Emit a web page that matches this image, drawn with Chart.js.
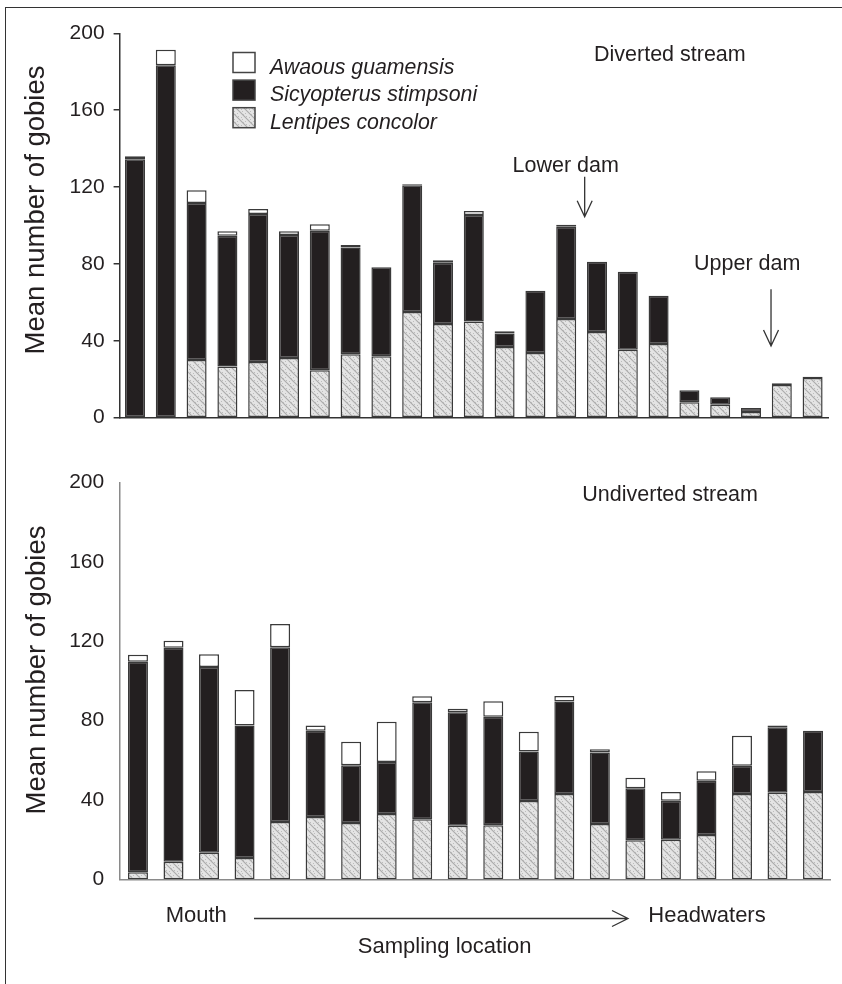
<!DOCTYPE html>
<html lang="en">
  <head>
    <meta charset="UTF-8" />
    <title>Mean number of gobies by sampling location</title>
    <script src="https://cdn.jsdelivr.net/npm/chart.js@4.4.0/dist/chart.umd.min.js"></script>
    <style>
      html, body { margin: 0; padding: 0; background: #fff; }
      #page { position: relative; width: 842px; height: 984px; overflow: hidden; }
      #frame { position: absolute; left: 5px; top: 6.5px; width: 850px; height: 990px;
               border-top: 1.5px solid #333; border-left: 1.5px solid #333; }
      canvas { position: absolute; left: 0; }
    </style>
  </head>
  <body>
    <div id="page">
      <div id="frame"></div>
      <canvas id="divChart" width="842" height="450" style="top:0"></canvas>
      <canvas id="undChart" width="842" height="534" style="top:450px"></canvas>
    </div>

    <script>
      // values (mean number of gobies per site, mouth -> headwaters)
      const divSites = ['1','2','3','4','5','6','7','8','9','10','11','12','13','14','15','16','17','18','19','20','21','22','23'];
      const divLentipes    = [0, 0.4, 30, 26.7, 29, 31, 24.7, 33, 32, 55, 48.8, 50, 36.8, 33.7, 51.4, 44.6, 35.4, 38.3, 8, 6.8, 3, 17, 20.6];
      const divSicyopterus = [134.5, 183, 81.7, 68, 77, 64, 72.6, 55.6, 46.3, 66, 31.8, 55.5, 7, 32.4, 48, 36.6, 40.6, 25.2, 6.3, 3.8, 2, 0.9, 0.7];
      const divAwaous      = [1.5, 8, 6.6, 2.3, 2.6, 2, 3.3, 1.3, 0, 0.4, 1.3, 2, 1.2, 0, 1, 0, 0, 0, 0, 0, 0, 0, 0];

      const undSites = ['1','2','3','4','5','6','7','8','9','10','11','12','13','14','15','16','17','18','19','20'];
      const undLentipes    = [3.5, 8.9, 13.4, 10.7, 28.9, 31.4, 28.4, 32.9, 30.3, 27, 27.2, 39.5, 43, 27.9, 19.7, 20, 22.3, 43, 43.7, 44];
      const undSicyopterus = [106.2, 107.9, 93.6, 66.8, 88.1, 43.5, 29.1, 26.3, 59, 57.2, 54.8, 25, 46.6, 36.1, 26.2, 19.6, 27.4, 14.3, 33, 30.9];
      const undAwaous      = [3.6, 3.5, 6.5, 18, 11.7, 2.6, 11.9, 20.3, 3, 1.8, 7.8, 9.9, 2.8, 1.6, 5.3, 4.4, 4.8, 15.1, 0.8, 0];

      const yTicks = [0, 40, 80, 120, 160, 200];
      const species = ['Awaous guamensis', 'Sicyopterus stimpsoni', 'Lentipes concolor'];

      const INK = '#231f20';
      const EDGE = '#3a3a3a';
      const FONT = '"Liberation Sans", Arial, sans-serif';

      // light stippled grey with faint "\" streaks, like the printed shading
      function makeShade() {
        const c = document.createElement('canvas');
        c.width = 8; c.height = 8;
        const g = c.getContext('2d');
        g.fillStyle = '#e4e4e4';
        g.fillRect(0, 0, 8, 8);
        g.strokeStyle = '#ababab';
        g.lineWidth = 1.1;
        g.beginPath();
        g.moveTo(0, 0); g.lineTo(8, 8);
        g.moveTo(-4, 4); g.lineTo(4, 12);
        g.moveTo(4, -4); g.lineTo(12, 4);
        g.stroke();
        g.fillStyle = '#bcbcbc';
        [[1, 5], [5, 1], [6, 4], [2, 7], [3, 2]].forEach(p => g.fillRect(p[0], p[1], 1, 1));
        return g.createPattern(c, 'repeat');
      }
      const shade = makeShade();

      function datasets(lent, sicy, awa) {
        const common = { borderColor: EDGE, borderWidth: 1.5, borderSkipped: false, stack: 's' };
        return [
          Object.assign({ label: species[2], data: lent, backgroundColor: shade }, common),
          Object.assign({ label: species[1], data: sicy, backgroundColor: INK }, common),
          Object.assign({ label: species[0], data: awa, backgroundColor: '#ffffff' }, common)
        ];
      }

      function yTitle(ctx, x, y) {
        ctx.save();
        ctx.translate(x, y);
        ctx.rotate(-Math.PI / 2);
        ctx.font = '27.5px ' + FONT;
        ctx.textAlign = 'center';
        ctx.textBaseline = 'alphabetic';
        ctx.fillText('Mean number of gobies', 0, 0);
        ctx.restore();
      }

      function downArrow(ctx, x, y0, y1) {
        ctx.beginPath();
        ctx.moveTo(x, y0); ctx.lineTo(x, y1);
        ctx.moveTo(x - 7.5, y1 - 16); ctx.lineTo(x, y1); ctx.lineTo(x + 7.5, y1 - 16);
        ctx.stroke();
      }

      const divNotes = {
        id: 'divNotes',
        afterDraw(chart) {
          const ctx = chart.ctx;
          const x = chart.scales.x;
          ctx.save();
          ctx.fillStyle = INK;
          yTitle(ctx, 44, 210);

          // legend, top to bottom as in the figure
          const sets = chart.data.datasets.slice().reverse();
          ctx.font = 'italic 21.3px ' + FONT;
          ctx.textAlign = 'left';
          ctx.textBaseline = 'alphabetic';
          sets.forEach((ds, i) => {
            const top = 52.5 + i * 27.6;
            ctx.fillStyle = ds.backgroundColor;
            ctx.fillRect(233, top, 22, 20);
            ctx.strokeStyle = '#444';
            ctx.lineWidth = 1.5;
            ctx.strokeRect(233, top, 22, 20);
            ctx.fillStyle = INK;
            ctx.fillText(ds.label, 270, top + 21);
          });

          ctx.font = '21.5px ' + FONT;
          ctx.fillText('Diverted stream', 594, 60.7);
          ctx.fillText('Lower dam', 512.5, 171.7);
          ctx.fillText('Upper dam', 694, 270);
          ctx.strokeStyle = '#333';
          ctx.lineWidth = 1.3;
          downArrow(ctx, x.getPixelForValue(14.6), 176.7, 216.7);
          downArrow(ctx, x.getPixelForValue(20.65), 289.3, 346);
          ctx.restore();
        }
      };

      const undNotes = {
        id: 'undNotes',
        afterDraw(chart) {
          const ctx = chart.ctx;
          ctx.save();
          ctx.fillStyle = INK;
          yTitle(ctx, 44.5, 220);
          ctx.font = '21.5px ' + FONT;
          ctx.textAlign = 'left';
          ctx.textBaseline = 'alphabetic';
          ctx.fillText('Undiverted stream', 582.3, 51);

          ctx.font = '22px ' + FONT;
          ctx.fillText('Mouth', 165.7, 472.3);
          ctx.fillText('Headwaters', 648.3, 471.7);
          ctx.textAlign = 'center';
          ctx.fillText('Sampling location', 444.7, 503.3);

          ctx.strokeStyle = '#333';
          ctx.lineWidth = 1.3;
          ctx.beginPath();
          ctx.moveTo(254, 468.5); ctx.lineTo(628, 468.5);
          ctx.moveTo(612, 460.5); ctx.lineTo(628, 468.5); ctx.lineTo(612, 476.5);
          ctx.stroke();
          ctx.restore();
        }
      };

      function makeChart(id, sites, sets, opt) {
        const ctx = document.getElementById(id).getContext('2d');
        return new Chart(ctx, {
          type: 'bar',
          data: { labels: sites, datasets: sets },
          plugins: [opt.notes],
          options: {
            responsive: false,
            animation: false,
            devicePixelRatio: 1,
            layout: { padding: opt.padding },
            datasets: { bar: { barPercentage: opt.barPct, categoryPercentage: 1 } },
            plugins: { legend: { display: false }, tooltip: { enabled: false } },
            scales: {
              x: {
                stacked: true,
                ticks: { display: false },
                grid: { display: false, drawTicks: false },
                border: { display: true, color: opt.axis, width: 1.5 },
                afterFit: s => { s.height = 0; }
              },
              y: {
                stacked: true,
                min: 0,
                max: 200,
                afterBuildTicks: s => { s.ticks = yTicks.map(v => ({ value: v })); },
                ticks: { color: INK, font: { family: FONT, size: 21 }, padding: opt.tickPad },
                grid: opt.yGrid,
                border: { display: true, color: opt.axis, width: 1.5 },
                afterFit: s => { s.width = opt.yWidth; }
              }
            }
          }
        });
      }

      makeChart('divChart', divSites, datasets(divLentipes, divSicyopterus, divAwaous), {
        notes: divNotes,
        padding: { top: 33.3, right: 14, bottom: 32.3, left: 0 },
        barPct: 0.65,
        axis: '#333',
        tickPad: 9,
        yWidth: 119.6,
        yGrid: { display: true, drawOnChartArea: false, drawTicks: true, tickLength: 6, color: '#333', lineWidth: 1.5 }
      });

      makeChart('undChart', undSites, datasets(undLentipes, undSicyopterus, undAwaous), {
        notes: undNotes,
        padding: { top: 32.7, right: 11.2, bottom: 104.7, left: 0 },
        barPct: 0.563,
        axis: '#8a8a8a',
        tickPad: 16,
        yWidth: 120.2,
        yGrid: { display: false, drawTicks: false }
      });
    </script>
  </body>
</html>
